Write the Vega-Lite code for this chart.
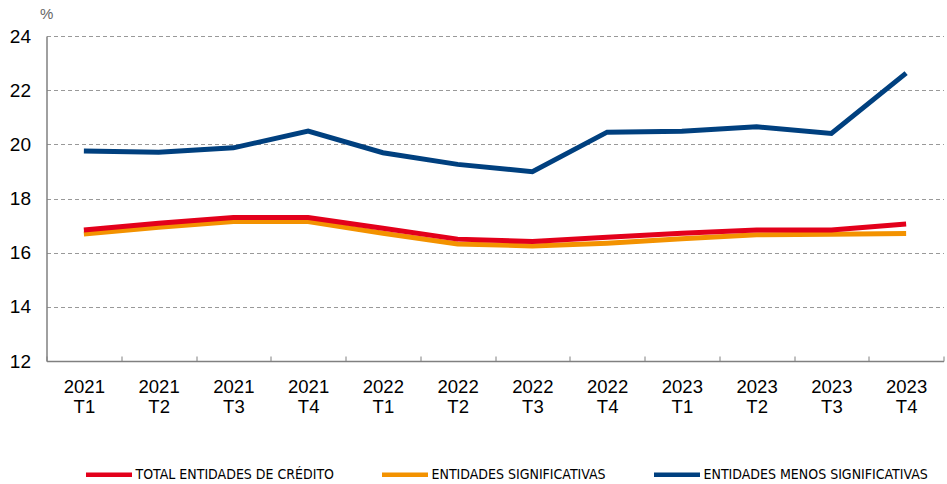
{
  "$schema": "https://vega.github.io/schema/vega-lite/v6.json",
  "width": 897,
  "height": 325,
  "autosize": "none",
  "padding": {"left": 46.5, "top": 36, "right": 3, "bottom": 123},
  "background": "white",
  "config": {
    "view": {"stroke": null},
    "font": "Liberation Sans"
  },
  "data": {
    "values": [
      {"q": "2021 T1", "s": "ENTIDADES MENOS SIGNIFICATIVAS", "v": 19.75},
      {"q": "2021 T2", "s": "ENTIDADES MENOS SIGNIFICATIVAS", "v": 19.71},
      {"q": "2021 T3", "s": "ENTIDADES MENOS SIGNIFICATIVAS", "v": 19.87},
      {"q": "2021 T4", "s": "ENTIDADES MENOS SIGNIFICATIVAS", "v": 20.49},
      {"q": "2022 T1", "s": "ENTIDADES MENOS SIGNIFICATIVAS", "v": 19.69},
      {"q": "2022 T2", "s": "ENTIDADES MENOS SIGNIFICATIVAS", "v": 19.26},
      {"q": "2022 T3", "s": "ENTIDADES MENOS SIGNIFICATIVAS", "v": 18.99},
      {"q": "2022 T4", "s": "ENTIDADES MENOS SIGNIFICATIVAS", "v": 20.45},
      {"q": "2023 T1", "s": "ENTIDADES MENOS SIGNIFICATIVAS", "v": 20.48},
      {"q": "2023 T2", "s": "ENTIDADES MENOS SIGNIFICATIVAS", "v": 20.65},
      {"q": "2023 T3", "s": "ENTIDADES MENOS SIGNIFICATIVAS", "v": 20.4},
      {"q": "2023 T4", "s": "ENTIDADES MENOS SIGNIFICATIVAS", "v": 22.63},
      {"q": "2021 T1", "s": "ENTIDADES SIGNIFICATIVAS", "v": 16.69},
      {"q": "2021 T2", "s": "ENTIDADES SIGNIFICATIVAS", "v": 16.94},
      {"q": "2021 T3", "s": "ENTIDADES SIGNIFICATIVAS", "v": 17.15},
      {"q": "2021 T4", "s": "ENTIDADES SIGNIFICATIVAS", "v": 17.15},
      {"q": "2022 T1", "s": "ENTIDADES SIGNIFICATIVAS", "v": 16.72},
      {"q": "2022 T2", "s": "ENTIDADES SIGNIFICATIVAS", "v": 16.32},
      {"q": "2022 T3", "s": "ENTIDADES SIGNIFICATIVAS", "v": 16.25},
      {"q": "2022 T4", "s": "ENTIDADES SIGNIFICATIVAS", "v": 16.35},
      {"q": "2023 T1", "s": "ENTIDADES SIGNIFICATIVAS", "v": 16.51},
      {"q": "2023 T2", "s": "ENTIDADES SIGNIFICATIVAS", "v": 16.66},
      {"q": "2023 T3", "s": "ENTIDADES SIGNIFICATIVAS", "v": 16.68},
      {"q": "2023 T4", "s": "ENTIDADES SIGNIFICATIVAS", "v": 16.71},
      {"q": "2021 T1", "s": "TOTAL ENTIDADES DE CRÉDITO", "v": 16.84},
      {"q": "2021 T2", "s": "TOTAL ENTIDADES DE CRÉDITO", "v": 17.09},
      {"q": "2021 T3", "s": "TOTAL ENTIDADES DE CRÉDITO", "v": 17.3},
      {"q": "2021 T4", "s": "TOTAL ENTIDADES DE CRÉDITO", "v": 17.3},
      {"q": "2022 T1", "s": "TOTAL ENTIDADES DE CRÉDITO", "v": 16.9},
      {"q": "2022 T2", "s": "TOTAL ENTIDADES DE CRÉDITO", "v": 16.5},
      {"q": "2022 T3", "s": "TOTAL ENTIDADES DE CRÉDITO", "v": 16.41},
      {"q": "2022 T4", "s": "TOTAL ENTIDADES DE CRÉDITO", "v": 16.57},
      {"q": "2023 T1", "s": "TOTAL ENTIDADES DE CRÉDITO", "v": 16.72},
      {"q": "2023 T2", "s": "TOTAL ENTIDADES DE CRÉDITO", "v": 16.84},
      {"q": "2023 T3", "s": "TOTAL ENTIDADES DE CRÉDITO", "v": 16.84},
      {"q": "2023 T4", "s": "TOTAL ENTIDADES DE CRÉDITO", "v": 17.06}
    ]
  },
  "mark": {"type": "line", "strokeWidth": 5, "strokeJoin": "miter", "strokeCap": "butt"},
  "encoding": {
    "x": {
      "field": "q",
      "type": "ordinal",
      "sort": null,
      "bandPosition": 0.5,
      "scale": {"type": "band", "paddingInner": 0, "paddingOuter": 0},
      "axis": {
        "title": null,
        "labelAngle": 0,
        "labelExpr": "split(datum.label, ' ')",
        "labelFontSize": 18.5,
        "labelColor": "#000000",
        "labelPadding": 21,
        "labelLineHeight": 20,
        "tickBand": "extent",
        "tickSize": -5,
        "tickColor": "#808080",
        "domainColor": "#808080",
        "domainWidth": 1.5,
        "grid": false
      }
    },
    "y": {
      "field": "v",
      "type": "quantitative",
      "scale": {"domain": [12, 24], "nice": false, "zero": false},
      "axis": {
        "values": [12, 14, 16, 18, 20, 22, 24],
        "title": "%",
        "titleAngle": 0,
        "titleAlign": "left",
        "titleBaseline": "bottom",
        "titleX": -7,
        "titleY": -15,
        "titleFontSize": 15,
        "titleFontWeight": "normal",
        "titleColor": "#666666",
        "labelFontSize": 19,
        "labelColor": "#000000",
        "labelAlign": "right",
        "labelPadding": 16,
        "labelBound": false,
        "labelFlush": false,
        "ticks": false,
        "domainColor": "#808080",
        "domainWidth": 1.5,
        "grid": true,
        "gridColor": "#999999",
        "gridDash": [4, 3],
        "gridWidth": 1
      }
    },
    "color": {
      "field": "s",
      "type": "nominal",
      "sort": null,
      "scale": {
        "domain": ["TOTAL ENTIDADES DE CRÉDITO", "ENTIDADES SIGNIFICATIVAS", "ENTIDADES MENOS SIGNIFICATIVAS"],
        "range": ["#E3001B", "#F39200", "#00407F"]
      },
      "legend": {
        "title": null,
        "orient": "none",
        "direction": "horizontal",
        "legendX": 37,
        "legendY": 413,
        "symbolType": "stroke",
        "symbolSize": 2116,
        "symbolStrokeWidth": 4.5,
        "labelOffset": 1,
        "labelFont": "'DejaVu Sans Condensed', 'Liberation Sans', sans-serif",
        "labelFontSize": 14,
        "labelColor": "#000000",
        "columnPadding": 38,
        "labelLimit": 400
      }
    }
  }
}
